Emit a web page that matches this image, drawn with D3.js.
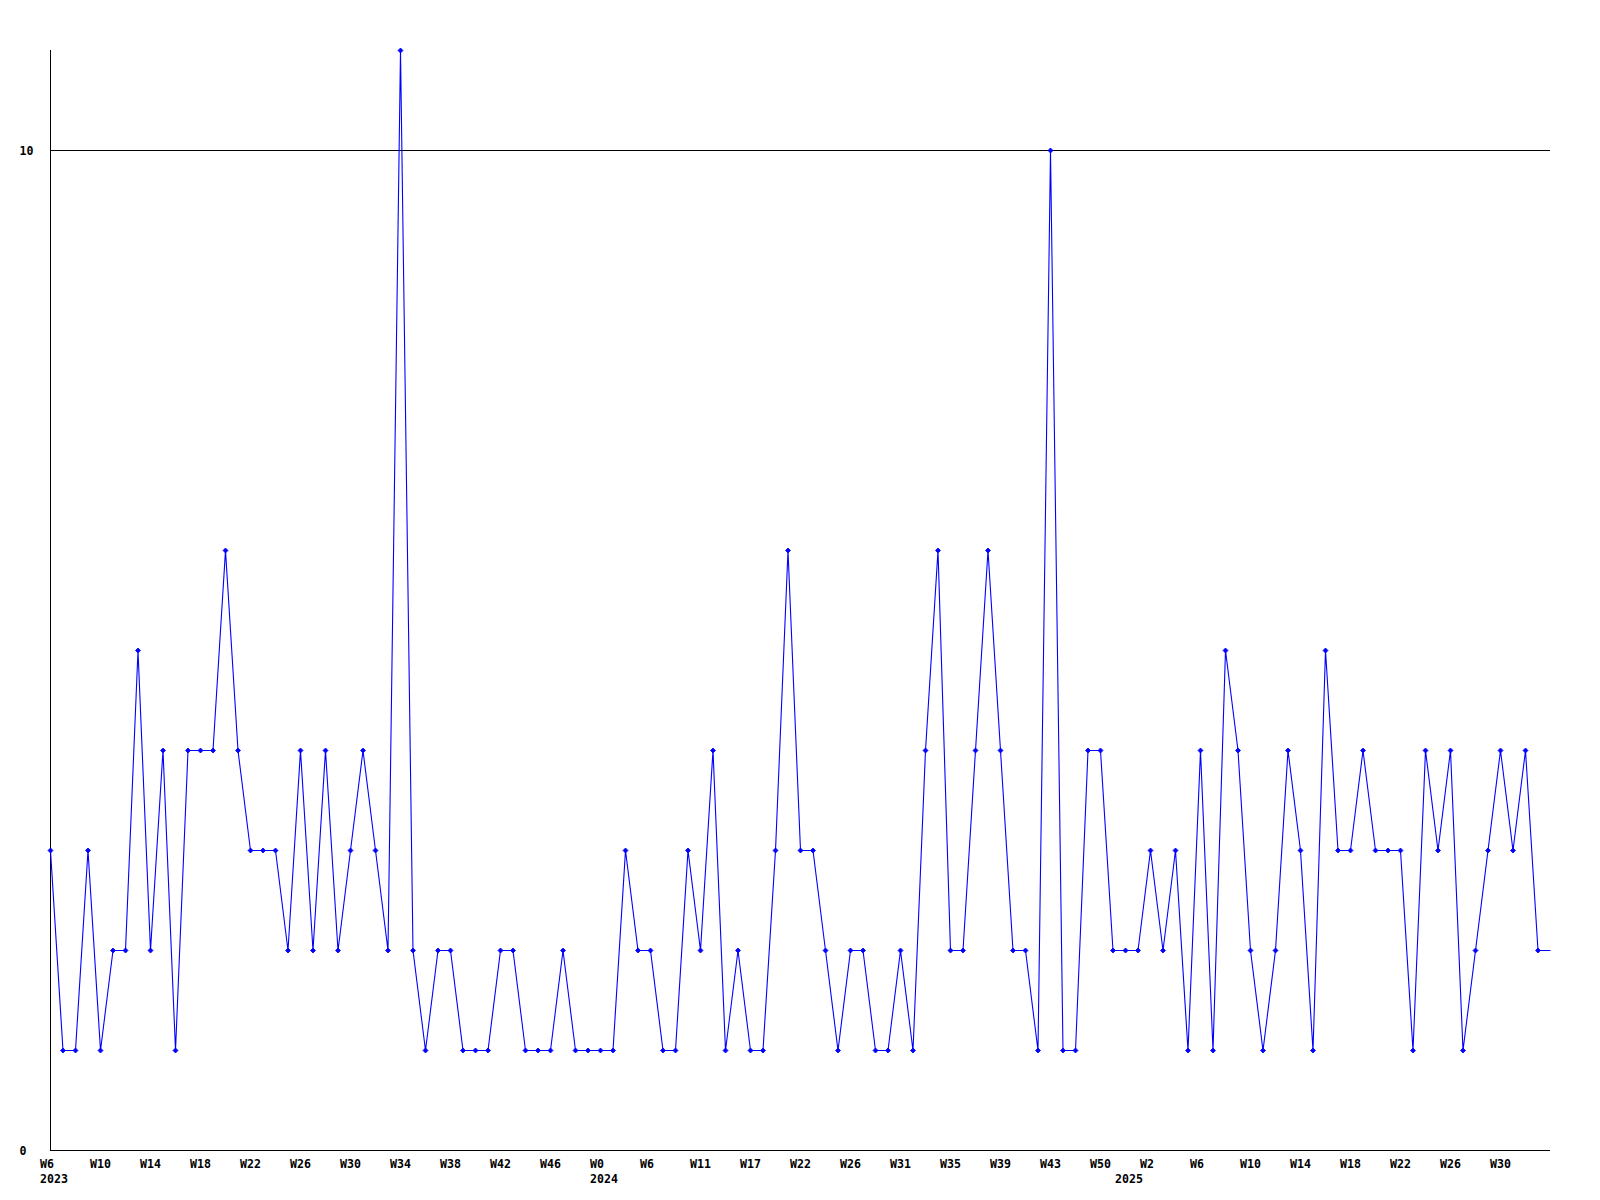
<!DOCTYPE html>
<html>
<head>
<meta charset="utf-8">
<script src="https://cdn.jsdelivr.net/npm/d3@7"></script>
<style>
html, body { margin: 0; padding: 0; background: #ffffff; }
svg { display: block; }
text { font-family: "DejaVu Sans Mono", "Liberation Mono", monospace; font-weight: bold; font-size: 11.6px; fill: #000; }
</style>
</head>
<body>
<svg id="chart" width="1600" height="1200"></svg>
<script>
// Weekly counts, in order (2023 W6 ... 2025 W34)
const values = [
  3, 1, 1, 3, 1, 2, 2, 5, 2, 4,
  1, 4, 4, 4, 6, 4, 3, 3, 3, 2,
  4, 2, 4, 2, 3, 4, 3, 2, 11, 2,
  1, 2, 2, 1, 1, 1, 2, 2, 1, 1,
  1, 2, 1, 1, 1, 1, 3, 2, 2, 1,
  1, 3, 2, 4, 1, 2, 1, 1, 3, 6,
  3, 3, 2, 1, 2, 2, 1, 1, 2, 1,
  4, 6, 2, 2, 4, 6, 4, 2, 2, 1,
  10, 1, 1, 4, 4, 2, 2, 2, 3, 2,
  3, 1, 4, 1, 5, 4, 2, 1, 2, 4,
  3, 1, 5, 3, 3, 4, 3, 3, 3, 1,
  4, 3, 4, 1, 2, 3, 4, 3, 4, 2,
  2
];
// Tick labels, one for every 4th point
const weekLabels = [
  "W6", "W10", "W14", "W18", "W22", "W26", "W30", "W34", "W38", "W42", "W46",
  "W0", "W6", "W11", "W17", "W22", "W26", "W31", "W35", "W39", "W43", "W50",
  "W2", "W6", "W10", "W14", "W18", "W22", "W26", "W30"
];
const labelStep = 4;
// Year labels at the first point of each year
const years = ["2023", "2024", "2025"];
const yearStartIndex = [0, 44, 86];
const yTicks = [0, 10];
const yMax = 11;

const svg = d3.select("#chart");
const x = d3.scaleLinear().domain([0, values.length - 1]).range([50, 1550]);
const y = d3.scaleLinear().domain([0, yMax]).range([1150, 50]);

// grid lines
svg.append("g").selectAll("line").data(yTicks.filter(v => v > 0)).join("line")
  .attr("x1", x(0)).attr("x2", x(values.length - 1))
  .attr("y1", d => Math.round(y(d)) + 0.5).attr("y2", d => Math.round(y(d)) + 0.5)
  .attr("stroke", "#000").attr("stroke-width", 1).attr("shape-rendering", "crispEdges");

// axes
svg.append("line")
  .attr("x1", x(0) + 0.5).attr("x2", x(0) + 0.5)
  .attr("y1", y(yMax)).attr("y2", y(0) + 1)
  .attr("stroke", "#000").attr("shape-rendering", "crispEdges");
svg.append("line")
  .attr("x1", x(0)).attr("x2", x(values.length - 1))
  .attr("y1", y(0) + 0.5).attr("y2", y(0) + 0.5)
  .attr("stroke", "#000").attr("shape-rendering", "crispEdges");

// y labels
svg.append("g").selectAll("text").data(yTicks).join("text")
  .attr("x", 19.5).attr("y", d => y(d) + 4.5)
  .text(d => d);

// x labels
svg.append("g").selectAll("text").data(weekLabels).join("text")
  .attr("x", (d, i) => x(i * labelStep) - 10)
  .attr("y", y(0) + 18)
  .text(d => d);

svg.append("g").selectAll("text").data(years).join("text")
  .attr("x", (d, i) => x(yearStartIndex[i]) - 10)
  .attr("y", y(0) + 33)
  .text(d => d);

// data line
const line = d3.line().x((d, i) => x(i) + 0.5).y(d => y(d) + 0.5);
svg.append("path").datum(values)
  .attr("d", line)
  .attr("fill", "none").attr("stroke", "#0000ff").attr("stroke-width", 1.1);

// markers (last value continues to the edge without a marker)
const diamond = "M0,-2.5L2.5,0L0,2.5L-2.5,0Z";
svg.append("g").selectAll("path").data(values.slice(0, values.length - 1)).join("path")
  .attr("transform", (d, i) => `translate(${x(i) + 0.5},${y(d) + 0.5})`)
  .attr("d", diamond)
  .attr("fill", "#0000ff").attr("stroke", "#0000ff").attr("stroke-width", 0.8);
</script>
</body>
</html>
